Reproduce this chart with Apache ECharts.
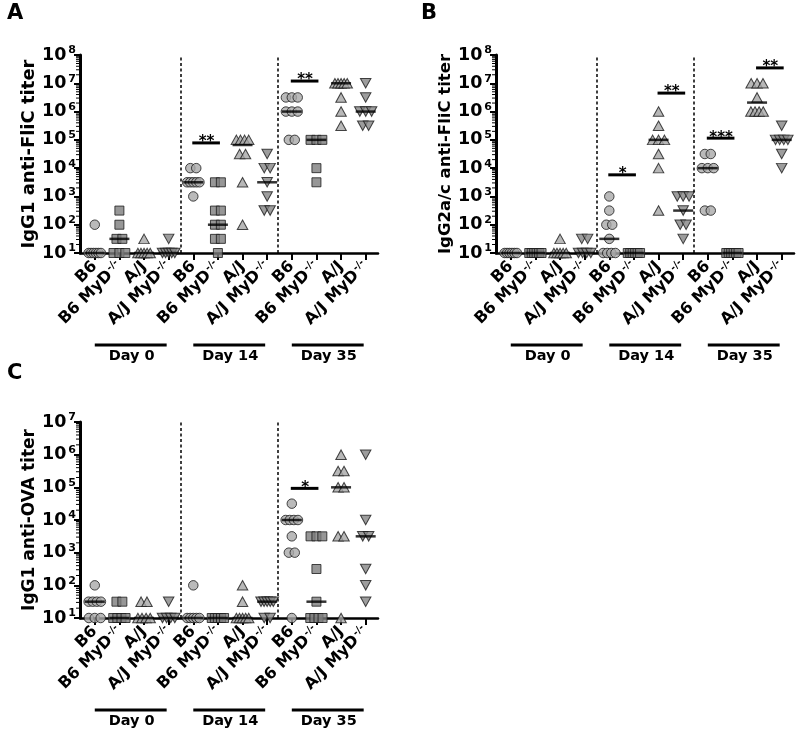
<!DOCTYPE html>
<html><head><meta charset="utf-8">
<script src="https://cdn.jsdelivr.net/npm/echarts@6/dist/echarts.min.js"></script>
<style>html,body{margin:0;padding:0;background:#fff}#c{width:800px;height:737px}</style>
</head><body><div id="c"></div>
<script>
// ---------- DATA ----------
const groups = ['B6', 'B6 MyD', 'A/J', 'A/J MyD'];
const days = ['Day 0', 'Day 14', 'Day 35'];
const yTitles = ['IgG1 anti-FliC titer', 'IgG2a/c anti-FliC titer', 'IgG1 anti-OVA titer'];
const yTickLabelsA = ['10^1','10^2','10^3','10^4','10^5','10^6','10^7','10^8'];
const yTickLabelsC = ['10^1','10^2','10^3','10^4','10^5','10^6','10^7'];

// Panel A: IgG1 anti-FliC  [day0, day14, day35]
const A_B6    = [[100,10,10,10,10,10,10], [1e4,1e4,3162,3162,3162,3162,3162,1000], [3.16e6,3.16e6,3.16e6,1e6,1e6,1e6,1e5,1e5]];
const A_B6MyD = [[316,100,31.6,31.6,10,10,10], [3162,3162,316,316,100,100,31.6,31.6,10], [1e5,1e5,1e5,1e4,3162]];
const A_AJ    = [[31.6,10,10,10,10,10], [1e5,1e5,1e5,1e5,31623,31623,3162,100], [1e7,1e7,1e7,1e7,1e7,3.16e6,1e6,3.16e5]];
const A_AJMyD = [[31.6,10,10,10,10,10], [31623,1e4,1e4,3162,1000,316,316], [1e7,3.16e6,1e6,1e6,1e6,3.16e5,3.16e5]];
const A_sig   = [[5, 6, 7.8e4, '**'], [9, 10, 1.2e7, '**']];

// Panel B: IgG2a/c anti-FliC
const B_B6    = [[10,10,10,10,10,10], [1000,316,100,100,31.6,10,10,10,10], [31623,31623,1e4,1e4,1e4,316,316]];
const B_B6MyD = [[10,10,10,10,10,10], [10,10,10,10,10,10], [10,10,10,10,10,10]];
const B_AJ    = [[31.6,10,10,10,10,10], [1e6,3.16e5,1e5,1e5,1e5,31623,1e4,316], [1e7,1e7,1e7,3.16e6,1e6,1e6,1e6,1e6]];
const B_AJMyD = [[31.6,31.6,10,10,10,10], [1000,1000,1000,316,100,100,31.6], [3.16e5,1e5,1e5,1e5,1e5,31623,1e4]];
const B_sig   = [[5, 6, 5.8e3, '*'], [7, 8, 4.5e6, '**'], [9, 10, 1.15e5, '***'], [11, 12, 3.5e7, '**']];

// Panel C: IgG1 anti-OVA
const C_B6    = [[100,31.6,31.6,31.6,31.6,10,10,10], [100,10,10,10,10,10], [31623,1e4,1e4,1e4,1e4,3162,1000,1000,10]];
const C_B6MyD = [[31.6,31.6,10,10,10,10], [10,10,10,10,10], [3162,3162,3162,316,31.6,10,10,10,10]];
const C_AJ    = [[31.6,31.6,10,10,10,10], [100,31.6,10,10,10,10,10], [1e6,3.16e5,3.16e5,1e5,1e5,3162,3162,10]];
const C_AJMyD = [[31.6,10,10,10,10], [31.6,31.6,31.6,31.6,31.6,10,10], [1e6,1e4,3162,3162,316,100,31.6]];
const C_sig   = [[9, 10, 9.3e4, '*']];

// ---------- CHART ----------
const FONT = 'DejaVu Sans';
const panels = [
  {letter:'A', title:yTitles[0], data:[A_B6,A_B6MyD,A_AJ,A_AJMyD], sig:A_sig, ticks:yTickLabelsA,
   grid:{left:80, top:55, width:298, height:198}, titleSize:18, nameGap:37, letterPos:[7,3]},
  {letter:'B', title:yTitles[1], data:[B_B6,B_B6MyD,B_AJ,B_AJMyD], sig:B_sig, ticks:yTickLabelsA,
   grid:{left:496, top:55, width:298, height:198}, titleSize:16.5, nameGap:40, letterPos:[421,3]},
  {letter:'C', title:yTitles[2], data:[C_B6,C_B6MyD,C_AJ,C_AJMyD], sig:C_sig, ticks:yTickLabelsC,
   grid:{left:80, top:422, width:298, height:196}, titleSize:17, nameGap:37, letterPos:[7,363]}
];
const marks = [
  {symbol:'circle',   size:9.5,      color:'#a9a9a9', rotate:0},
  {symbol:'rect',     size:9,        color:'#7d7d7d', rotate:0},
  {symbol:'triangle', size:[10.5,9.5], color:'#a6a6a6', rotate:0},
  {symbol:'triangle', size:[10.5,9.5], color:'#858585', rotate:180}
];
const XMIN = 0.4, XMAX = 12.5;
const catIdx = [1,2,3,4,5,6,7,8,9,10,11,12];

function swarm(vals, center) {
  const counts = {}; vals.forEach(v => counts[v] = (counts[v] || 0) + 1);
  const seen = {};
  return vals.map(v => {
    const n = counts[v]; const k = (seen[v] = (seen[v] || 0) + 1) - 1;
    const step = n > 1 ? Math.min(0.24, 0.5 / (n - 1)) : 0;
    return [center + (k - (n - 1) / 2) * step, v];
  });
}
function median(a) {
  const s = [...a].sort((x, y) => x - y); const n = s.length;
  return n % 2 ? s[(n - 1) / 2] : (s[n / 2 - 1] + s[n / 2]) / 2;
}
function tickValue(lbl) { return Math.pow(10, +lbl.split('^')[1]); }

const grids = [], xAxes = [], yAxes = [], series = [], graphics = [];
panels.forEach((p, i) => {
  const ymin = tickValue(p.ticks[0]), ymax = tickValue(p.ticks[p.ticks.length - 1]);
  grids.push(p.grid);
  xAxes.push({
    type:'value', gridIndex:i, min:XMIN, max:XMAX,
    axisLine:{show:true, onZero:false, lineStyle:{color:'#000', width:2.5}},
    axisTick:{show:true, customValues:catIdx, length:7, lineStyle:{color:'#000', width:2}},
    axisLabel:{show:true, customValues:catIdx, rotate:45, margin:11, interval:0,
      formatter: v => { const g = groups[(Math.round(v) - 1) % 4];
        return g.indexOf('MyD') >= 0 ? '{n|' + g + '}{s|-/-}' : '{n|' + g + '}'; },
      rich:{ n:{fontFamily:FONT, fontWeight:'bold', fontSize:16, color:'#000', lineHeight:18},
             s:{fontFamily:FONT, fontWeight:'bold', fontSize:10, color:'#000', verticalAlign:'top', lineHeight:10, padding:[0,0,7,1]} }},
    splitLine:{show:false}
  });
  yAxes.push({
    type:'log', logBase:10, gridIndex:i, min:ymin, max:ymax, splitNumber:p.ticks.length - 1,
    axisLine:{show:true, onZero:false, lineStyle:{color:'#000', width:3}},
    axisTick:{show:true, length:6, lineStyle:{color:'#000', width:2}},
    axisLabel:{margin:4, formatter: v => { const e = Math.round(Math.log10(v)); return '{b|10}{s|' + e + '}'; },
      rich:{ b:{fontFamily:FONT, fontWeight:'bold', fontSize:17.5, color:'#000', lineHeight:20},
             s:{fontFamily:FONT, fontWeight:'bold', fontSize:11, color:'#000', verticalAlign:'top', lineHeight:11, padding:[0,0,8,2]} }},
    splitLine:{show:false},
    name:p.title, nameLocation:'middle', nameGap:p.nameGap,
    nameTextStyle:{fontFamily:FONT, fontWeight:'bold', fontSize:p.titleSize, color:'#000'}
  });
  // points
  const medians = [];
  marks.forEach((m, g) => {
    let pts = [];
    p.data[g].forEach((vals, d) => {
      const c = d * 4 + g + 1;
      pts = pts.concat(swarm(vals, c));
      medians.push([c, median(vals)]);
    });
    series.push({type:'scatter', xAxisIndex:i, yAxisIndex:i, data:pts, symbol:m.symbol, symbolSize:m.size,
      symbolRotate:m.rotate, clip:false, silent:true, z:3,
      itemStyle:{color:m.color, borderColor:'#1a1a1a', borderWidth:1}});
  });
  series.push({type:'scatter', xAxisIndex:i, yAxisIndex:i, data:medians, symbol:'rect', symbolSize:[20,2.5],
    clip:false, silent:true, z:5, itemStyle:{color:'#000'},
    markLine:{symbol:['none','none'], silent:true, label:{show:false}, animation:false,
      lineStyle:{type:[3,2.5], width:1.5, color:'#000'}, data:[{xAxis:4.5},{xAxis:8.42}]}});
  // minor log ticks
  const minor = [];
  for (let e = Math.log10(ymin); e < Math.log10(ymax); e++) for (let k = 2; k <= 9; k++) minor.push([XMIN, k * Math.pow(10, e)]);
  series.push({type:'custom', xAxisIndex:i, yAxisIndex:i, data:minor, clip:false, silent:true, z:4,
    renderItem:(params, api) => { const pt = api.coord([api.value(0), api.value(1)]);
      return {type:'line', shape:{x1:pt[0] - 4, y1:pt[1], x2:pt[0], y2:pt[1]}, style:{stroke:'#000', lineWidth:1}}; }});
  // significance bars
  series.push({type:'custom', xAxisIndex:i, yAxisIndex:i, data:p.sig.map(s => [s[0], s[2]]), clip:false, silent:true, z:6,
    renderItem:(params, api) => { const s = p.sig[params.dataIndex];
      const p1 = api.coord([s[0], s[2]]), p2 = api.coord([s[1], s[2]]);
      return {type:'group', children:[
        {type:'rect', shape:{x:p1[0] - 1, y:p1[1] - 1.5, width:p2[0] - p1[0] + 3, height:3}, style:{fill:'#000'}},
        {type:'text', style:{text:s[3], x:(p1[0] + p2[0]) / 2 + 1, y:p1[1] + 7, align:'center', verticalAlign:'bottom',
          font:'bold 15px "DejaVu Sans"', fill:'#000'}}]}; }});
  // day group labels
  series.push({type:'custom', xAxisIndex:i, yAxisIndex:i, data:days.map((d, j) => [j * 4 + 1, ymin]), clip:false, silent:true, z:6,
    renderItem:(params, api) => { const j = params.dataIndex;
      const p1 = api.coord([j * 4 + 1, ymin]), p2 = api.coord([j * 4 + 4, ymin]); const y = p1[1] + 92;
      return {type:'group', children:[
        {type:'line', shape:{x1:p1[0], y1:y, x2:p2[0] - 2, y2:y}, style:{stroke:'#000', lineWidth:3}},
        {type:'text', style:{text:days[j], x:(p1[0] + p2[0]) / 2, y:y + 4, align:'center', verticalAlign:'top',
          font:'bold 14.5px "DejaVu Sans"', fill:'#000'}}]}; }});
  graphics.push({type:'text', left:p.letterPos[0], top:p.letterPos[1], style:{text:p.letter, font:'bold 21px "DejaVu Sans"', fill:'#000'}});
});

const chart = echarts.init(document.getElementById('c'));
chart.setOption({animation:false, backgroundColor:'#fff', grid:grids, xAxis:xAxes, yAxis:yAxes, series:series, graphic:graphics});
</script></body></html>
